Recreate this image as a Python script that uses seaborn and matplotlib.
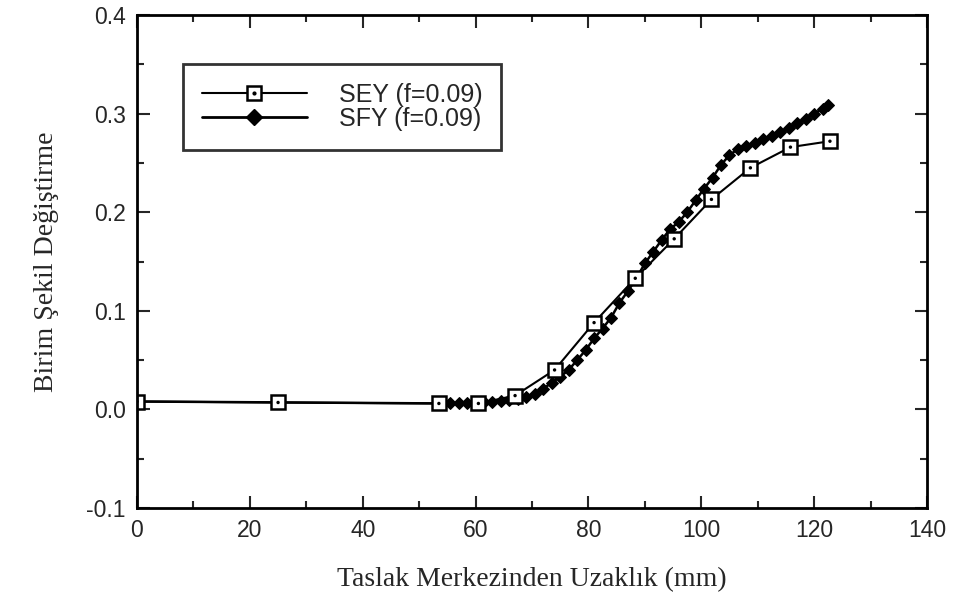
import numpy as np
import pandas as pd
import matplotlib
matplotlib.use("Agg")
import matplotlib.pyplot as plt
from matplotlib.legend_handler import HandlerTuple
from matplotlib.lines import Line2D
import seaborn as sns

# SEY (f=0.09)
sey_x = [0, 25, 53.5, 60.5, 67, 74, 81, 88.3, 95.2, 101.8, 108.7, 115.8, 122.8]
sey_y = [0.008, 0.007, 0.006, 0.006, 0.014, 0.040, 0.088, 0.133, 0.173, 0.213, 0.245, 0.266, 0.272]

# SFY (f=0.09)
sfy_x = [0, 55.5, 57, 58.5, 60, 61.5, 63, 64.5, 66, 67.5, 69, 70.5, 72, 73.5, 75, 76.5,
         78, 79.5, 81, 82.5, 84, 85.5, 87, 88.5, 90, 91.5, 93, 94.5, 96, 97.5, 99,
         100.5, 102, 103.5, 105, 106.5, 108, 109.5, 111, 112.5, 114, 115.5, 117,
         118.5, 120, 121.5, 122.5]
sfy_y = [0.008, 0.006, 0.006, 0.006, 0.006, 0.007, 0.008, 0.009, 0.010, 0.011, 0.013,
         0.016, 0.021, 0.027, 0.033, 0.040, 0.050, 0.060, 0.072, 0.082, 0.093, 0.108,
         0.120, 0.133, 0.148, 0.160, 0.172, 0.183, 0.190, 0.200, 0.212, 0.224, 0.235,
         0.248, 0.258, 0.264, 0.267, 0.270, 0.274, 0.277, 0.281, 0.285, 0.290, 0.295,
         0.300, 0.305, 0.309]

sey = pd.DataFrame({"x": sey_x, "y": sey_y})
sfy = pd.DataFrame({"x": sfy_x, "y": sfy_y})

sns.set_style("ticks")
plt.rcParams["font.family"] = ["Liberation Sans", "DejaVu Sans"]

fig = plt.figure(figsize=(9.54, 6.08), dpi=100)
ax = fig.add_axes([0.1436, 0.1645, 0.8281, 0.8108])

# SFY line with filled diamonds
sns.lineplot(data=sfy, x="x", y="y", ax=ax, color="black", lw=1.8,
             marker="D", markersize=6, markerfacecolor="black",
             markeredgecolor="black", sort=False)
# SEY line with open squares, dot inside
sns.lineplot(data=sey, x="x", y="y", ax=ax, color="black", lw=1.5,
             marker="s", markersize=10, markerfacecolor="white",
             markeredgecolor="black", markeredgewidth=1.8, sort=False)
sns.scatterplot(data=sey, x="x", y="y", ax=ax, color="black", s=6,
                edgecolor="none", zorder=5)

ax.set_xlim(0, 140)
ax.set_ylim(-0.1, 0.4)
ax.set_xticks(np.arange(0, 141, 20))
ax.set_xticks(np.arange(10, 140, 20), minor=True)
ax.set_yticks(np.arange(-0.1, 0.41, 0.1))
ax.set_yticks(np.arange(-0.05, 0.4, 0.1), minor=True)
ax.set_xticklabels([str(v) for v in range(0, 141, 20)])
ax.set_yticklabels(["-0.1", "0.0", "0.1", "0.2", "0.3", "0.4"])

ax.tick_params(which="both", direction="in", top=True, right=True,
               width=1.5, labelsize=16.5, pad=8)
ax.tick_params(which="major", length=9)
ax.tick_params(which="minor", length=5)
for s in ax.spines.values():
    s.set_linewidth(2)
    s.set_color("black")

ax.set_xlabel("Taslak Merkezinden Uzaklık (mm)", family="Liberation Serif",
              fontsize=20, labelpad=18)
ax.set_ylabel("Birim Şekil Değiştirme", family="Liberation Serif",
              fontsize=20, labelpad=20)

h_sey = Line2D([], [], color="black", lw=1.5, marker="s", markersize=10,
               markerfacecolor="white", markeredgecolor="black", markeredgewidth=1.8)
h_dot = Line2D([], [], color="black", lw=0, marker="o", markersize=2)
h_sfy = Line2D([], [], color="black", lw=2.0, marker="D", markersize=8,
               markerfacecolor="black")
leg = ax.legend([(h_sey, h_dot), h_sfy], ["SEY (f=0.09)", "SFY (f=0.09)"],
                handler_map={tuple: HandlerTuple(ndivide=1)},
                loc="upper left", bbox_to_anchor=(0.058, 0.9),
                fontsize=18, handlelength=4.2, handletextpad=1.3,
                borderpad=0.75, labelspacing=0.0, fancybox=False,
                frameon=True, edgecolor="black", borderaxespad=0)
leg.get_frame().set_linewidth(2)

fig.savefig("out.png", dpi=100)
